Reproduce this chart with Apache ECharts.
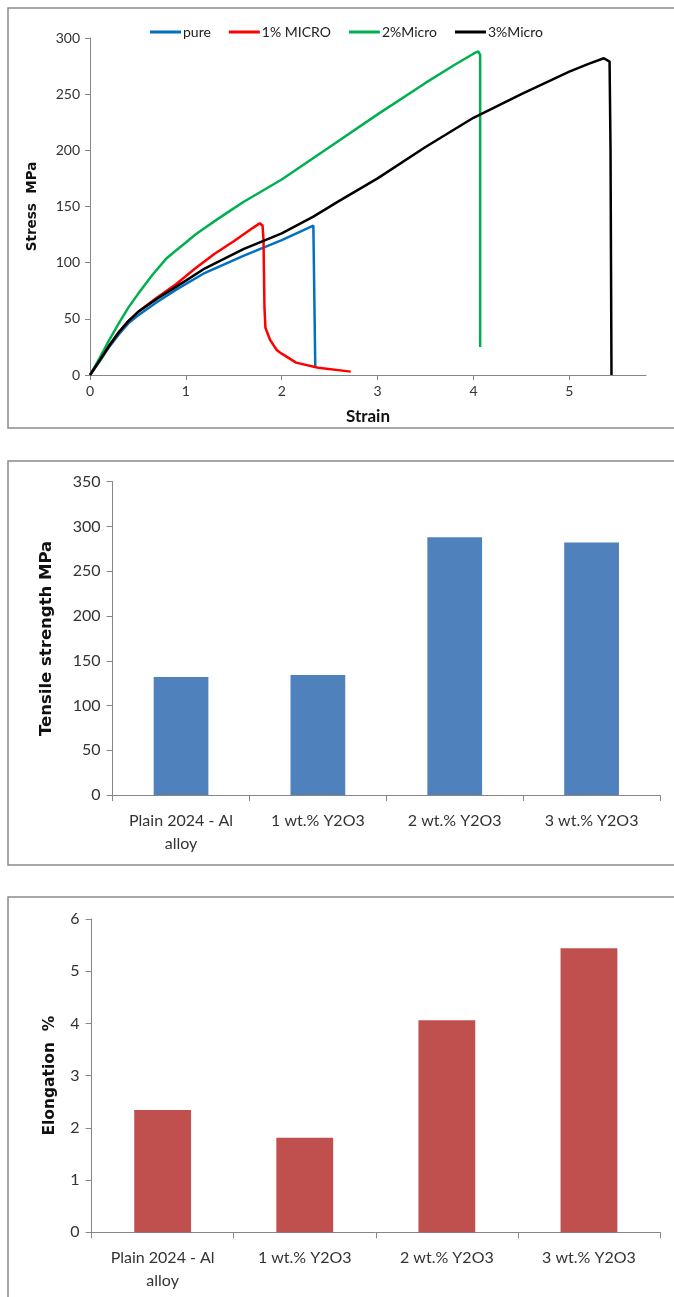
<!DOCTYPE html>
<html>
<head>
<meta charset="utf-8">
<script src="https://cdn.jsdelivr.net/npm/echarts@6/dist/echarts.min.js"></script>
<style>
  html, body { margin: 0; padding: 0; background: #fff; }
  #chart { width: 674px; height: 1297px; }
</style>
</head>
<body>
<div id="chart"></div>
<script>
// stress-strain curves [strain, stress]
const pure = [[0,0],[0.1,12],[0.2,25],[0.3,36],[0.4,46],[0.5,53],[0.7,65],[0.9,76],[1.2,91],[1.6,106],[2.0,120],[2.33,133],[2.34,132],[2.35,8]];
const micro1 = [[0,0],[0.1,13],[0.2,26],[0.3,38],[0.4,48],[0.5,56],[0.7,69],[0.9,81],[1.1,95],[1.3,108],[1.5,119],[1.7,131],[1.77,135],[1.8,133],[1.81,120],[1.82,60],[1.83,42],[1.88,31],[1.95,22],[2.0,19],[2.15,11],[2.38,6.5],[2.72,3]];
const micro2 = [[0,0],[0.1,15],[0.2,31],[0.3,46],[0.4,60],[0.5,72],[0.65,89],[0.8,104],[0.9,111],[1.0,118],[1.1,125],[1.2,131],[1.3,137],[1.44,145],[1.6,154],[1.8,164],[2.0,174],[2.5,203],[3.0,232],[3.5,260],[3.8,276],[4.0,286],[4.05,288],[4.07,285],[4.07,25]];
const micro3 = [[0,0],[0.1,13],[0.2,26],[0.3,38],[0.4,48],[0.5,56],[0.7,68],[1.0,84],[1.2,95],[1.6,112],[2.0,126],[2.33,141],[2.6,155],[3.0,175],[3.5,203],[4.0,229],[4.5,250],[5.0,270],[5.2,277],[5.36,282],[5.42,279],[5.43,200],[5.44,0]];

const curveNames = ['pure', '1% MICRO', '2%Micro', '3%Micro'];
const curveColors = ['#0070C0', '#FF0000', '#00B050', '#000000'];

// bar panels
const categories = ['Plain 2024 - Al\nalloy', '1 wt.% Y2O3', '2 wt.% Y2O3', '3 wt.% Y2O3'];
const tensile = [132, 134, 288, 282];
const elongation = [2.34, 1.81, 4.06, 5.44];

const strainTicks = [0, 1, 2, 3, 4, 5];

const axisGray = '#868686';
const labelColor = '#333';
const tickFont = 'Lato';
const titleFont = 'DejaVu Sans';

let myChart = echarts.init(document.getElementById('chart'), null, { renderer: 'canvas' });

function catAxis(gi) {
  return {
    type: 'category', gridIndex: gi, data: categories,
    axisLine: { lineStyle: { color: axisGray, width: 1 } },
    axisTick: { show: true, length: 6, interval: 0, lineStyle: { color: axisGray } },
    axisLabel: { color: labelColor, fontFamily: tickFont, fontSize: 16, lineHeight: 23, margin: 14, interval: 0 }
  };
}

myChart.setOption({
  animation: false,
  backgroundColor: '#fff',
  graphic: [
    { type: 'rect', shape: { x: 8, y: 8, width: 700, height: 420 }, style: { fill: 'none', stroke: '#8a8a8a', lineWidth: 1.5 } },
    { type: 'rect', shape: { x: 8, y: 461, width: 700, height: 404 }, style: { fill: 'none', stroke: '#8a8a8a', lineWidth: 1.5 } },
    { type: 'rect', shape: { x: 8, y: 897, width: 700, height: 420 }, style: { fill: 'none', stroke: '#8a8a8a', lineWidth: 1.5 } }
  ],
  legend: {
    data: curveNames,
    left: 145, top: 20,
    icon: 'rect', itemWidth: 31, itemHeight: 3, itemGap: 18,
    textStyle: { fontFamily: tickFont, fontSize: 14, color: '#222', padding: [0, 0, 0, -3] }
  },
  grid: [
    { left: 90, top: 38, width: 556, height: 337 },
    { left: 112.6, top: 481.7, width: 547.4, height: 313.4 },
    { left: 91.6, top: 919, width: 568.4, height: 313.3 }
  ],
  xAxis: [
    {
      type: 'value', gridIndex: 0, min: 0, max: 5.8, interval: 1,
      name: 'Strain', nameLocation: 'middle', nameGap: 33,
      nameTextStyle: { fontFamily: tickFont, fontWeight: 'bold', fontSize: 17, color: '#111' },
      axisLine: { show: true, lineStyle: { color: axisGray } },
      axisTick: { show: true, length: 5, customValues: strainTicks, lineStyle: { color: axisGray } },
      axisLabel: { customValues: strainTicks, color: labelColor, fontFamily: tickFont, fontSize: 14, margin: 9 },
      splitLine: { show: false }
    },
    catAxis(1),
    catAxis(2)
  ],
  yAxis: [
    {
      type: 'value', gridIndex: 0, min: 0, max: 300, interval: 50,
      name: 'Stress  MPa', nameLocation: 'middle', nameGap: 51, nameRotate: 90,
      nameTextStyle: { fontFamily: titleFont, fontWeight: 'bold', fontSize: 13.5, color: '#111' },
      axisLine: { show: true, lineStyle: { color: axisGray } },
      axisTick: { show: true, length: 5, lineStyle: { color: axisGray } },
      axisLabel: { color: labelColor, fontFamily: tickFont, fontSize: 14, margin: 10 },
      splitLine: { show: false }
    },
    {
      type: 'value', gridIndex: 1, min: 0, max: 350, interval: 50,
      name: 'Tensile strength MPa', nameLocation: 'middle', nameGap: 57, nameRotate: 90,
      nameTextStyle: { fontFamily: titleFont, fontWeight: 'bold', fontSize: 16.5, color: '#111' },
      axisLine: { show: true, lineStyle: { color: axisGray } },
      axisTick: { show: true, length: 6, lineStyle: { color: axisGray } },
      axisLabel: { color: labelColor, fontFamily: tickFont, fontSize: 16, margin: 12 },
      splitLine: { show: false }
    },
    {
      type: 'value', gridIndex: 2, min: 0, max: 6, interval: 1,
      name: 'Elongation  %', nameLocation: 'middle', nameGap: 34, nameRotate: 90,
      nameTextStyle: { fontFamily: titleFont, fontWeight: 'bold', fontSize: 15.5, color: '#111' },
      axisLine: { show: true, lineStyle: { color: axisGray } },
      axisTick: { show: true, length: 6, lineStyle: { color: axisGray } },
      axisLabel: { color: labelColor, fontFamily: tickFont, fontSize: 16, margin: 12 },
      splitLine: { show: false }
    }
  ],
  series: [
    { name: curveNames[0], type: 'line', xAxisIndex: 0, yAxisIndex: 0, data: pure, showSymbol: false, color: curveColors[0], lineStyle: { width: 2.5 } },
    { name: curveNames[1], type: 'line', xAxisIndex: 0, yAxisIndex: 0, data: micro1, showSymbol: false, color: curveColors[1], lineStyle: { width: 2.5 } },
    { name: curveNames[2], type: 'line', xAxisIndex: 0, yAxisIndex: 0, data: micro2, showSymbol: false, color: curveColors[2], lineStyle: { width: 2.5 } },
    { name: curveNames[3], type: 'line', xAxisIndex: 0, yAxisIndex: 0, data: micro3, showSymbol: false, color: curveColors[3], lineStyle: { width: 2.5 } },
    { type: 'bar', xAxisIndex: 1, yAxisIndex: 1, data: tensile, barWidth: '40%', itemStyle: { color: '#4F81BD' } },
    { type: 'bar', xAxisIndex: 2, yAxisIndex: 2, data: elongation, barWidth: '40%', itemStyle: { color: '#C0504D' } }
  ]
});
</script>
</body>
</html>
